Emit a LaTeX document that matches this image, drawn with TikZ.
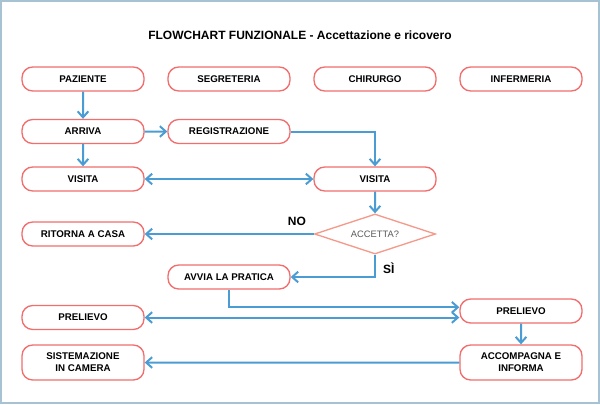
\documentclass[tikz,border=0pt]{standalone}
\usepackage{fontspec}
\setmainfont{Liberation Sans}
\usetikzlibrary{arrows.meta,shapes.geometric}

\definecolor{boxred}{HTML}{F26D6D}
\definecolor{diared}{HTML}{F49A8A}
\definecolor{flowblue}{HTML}{4B9CD3}
\definecolor{framegray}{HTML}{A6C2D3}

\begin{document}
\begin{tikzpicture}[x=1pt,y=-1pt,scale=0.75,
  box/.style={draw=boxred,line width=1pt,rounded corners=8pt,fill=white,
    minimum width=91.5pt,minimum height=18pt,inner sep=1pt,align=center,
    font=\bfseries\fontsize{7.3}{9}\selectfont},
  tall/.style={minimum height=26.25pt},
  decision/.style={diamond,draw=diared,line width=1pt,aspect=3,inner sep=0pt,
    minimum width=90.75pt,minimum height=30pt,text=black!65,
    font=\fontsize{7}{8}\selectfont},
  flow/.style={draw=flowblue,line width=1.5pt,-{Straight Barb[length=4.5pt,width=8pt]}},
  both/.style={flow,{Straight Barb[length=4.5pt,width=8pt]}-{Straight Barb[length=4.5pt,width=8pt]}},
  answer/.style={font=\bfseries\fontsize{9}{10}\selectfont}]
\useasboundingbox (0,0) rectangle (600,404);
\draw[framegray,line width=1.5pt] (1,1) rectangle (599,403);

\node[font=\bfseries\fontsize{9}{10}\selectfont] (title) at (300,35) {FLOWCHART FUNZIONALE - Accettazione e ricovero};

% headers
\foreach \name/\x/\txt in {paz/83/PAZIENTE,seg/229/SEGRETERIA,chi/375/CHIRURGO,inf/521/INFERMERIA}
  \node[box] (\name) at (\x,79) {\txt};

\node[box] (arr) at (83,131.5) {ARRIVA};
\node[box] (reg) at (229,131.5) {REGISTRAZIONE};
\node[box] (vis1) at (83,179) {VISITA};
\node[box] (vis2) at (375,179) {VISITA};
\node[decision] (acc) at (375,234) {ACCETTA?};
\node[box] (rit) at (83,234) {RITORNA A CASA};
\node[box] (avv) at (229,277) {AVVIA LA PRATICA};
\node[box] (pre1) at (83,317.5) {PRELIEVO};
\node[box] (pre2) at (521,311) {PRELIEVO};
\node[box,tall] (sis) at (83,362.5) {SISTEMAZIONE\\IN CAMERA};
\node[box,tall] (acm) at (521,362.5) {ACCOMPAGNA E\\INFORMA};

\draw[flow] (paz) -- (arr);
\draw[flow] (arr) -- (reg);
\draw[flow] (reg.east) -| (vis2.north);
\draw[flow] (arr) -- (vis1);
\draw[both] (vis1) -- (vis2);
\draw[flow] (vis2) -- (acc);
\draw[flow] (acc.west) -- node[answer,pos=0.1,above=2pt] (no) {NO} (rit.east);
\draw[flow] (acc.south) |- node[answer,pos=0.3,right=2pt] (si) {SÌ} (avv.east);
\draw[flow] (avv.south) |- ([yshift=3.75pt]pre2.west);
\draw[both] (pre1.east) -- (pre1.east -| pre2.west);
\draw[flow] (pre2) -- (acm);
\draw[flow] (acm) -- (sis);

\end{tikzpicture}
\end{document}
